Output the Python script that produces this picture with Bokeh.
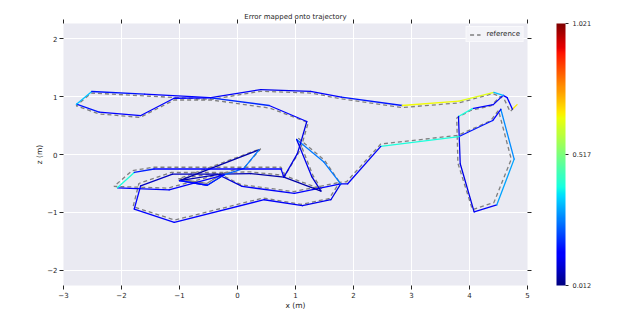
import numpy as np
from bokeh.plotting import figure
from bokeh.models import (ColumnDataSource, LinearColorMapper, ColorBar, FixedTicker,
                          LinearAxis, Range1d, Legend, LegendItem)
from bokeh.embed import file_html
from bokeh.resources import INLINE

title_text = "Error mapped onto trajectory"
x_label = "x (m)"
z_label = "z (m)"
x_ticks = [-3, -2, -1, 0, 1, 2, 3, 4, 5]
x_tick_labels = ["\u22123", "\u22122", "\u22121", "0", "1", "2", "3", "4", "5"]
z_ticks = [-2, -1, 0, 1, 2]
z_tick_labels = ["\u22122", "\u22121", "0", "1", "2"]
err_min, err_max = 0.012, 1.021
cbar_ticks = [0.012, 0.517, 1.021]
cbar_tick_labels = ["0.012", "0.517", "1.021"]

# estimated trajectory (x, z) and error at each pose
traj_x = [4.82, 4.74, 4.65, 4.58, 4.41, 4.05, 3.81, 3.84, 4.08, 4.47,
          4.77, 4.54, 4.40, 3.82, 2.47, 1.90, 1.78, 1.61, 1.12, 0.46,
          -1.09, -1.78, -1.67, -1.12, -0.345, 0.08, 0.98, 1.78, 1.49, 1.02,
          1.28, 1.44, 0.80, 0.23, -0.29, -1.00, 0.37, 0.11, -0.23, -0.52,
          -1.00, -0.52, -0.23, -1.18, -2.07, -1.78, -1.44, 0.75, 0.80, 1.03,
          1.08, 1.195, 0.545, -0.46, -1.093, -1.667, -2.386, -2.776, -2.512, -1.60,
          -0.46, 0.40, 1.26, 1.79, 2.84, 3.82, 4.42, 4.58]
traj_z = [0.86, 0.78, 0.98, 1.02, 0.86, 0.79, 0.655, -0.16, -0.99, -0.87,
          -0.08, 0.78, 0.586, 0.31, 0.14, -0.505, -0.505, -0.78, -0.88, -0.78,
          -1.17, -0.94, -0.54, -0.34, -0.34, -0.55, -0.67, -0.505, -0.13, 0.26,
          -0.38, -0.63, -0.39, -0.33, -0.34, -0.45, 0.08, -0.24, -0.35, -0.53,
          -0.45, -0.53, -0.35, -0.61, -0.575, -0.31, -0.25, -0.25, -0.39, 0.01,
          0.17, 0.569, 0.845, 0.977, 0.97, 0.672, 0.73, 0.867, 1.086, 1.04,
          0.98, 1.12, 1.09, 0.99, 0.845, 0.92, 1.07, 1.02]
traj_err = [0.70, 0.68, 0.13, 0.13, 0.12, 0.14, 0.40, 0.11, 0.10, 0.12,
            0.30, 0.28, 0.14, 0.16, 0.40, 0.12, 0.12, 0.10, 0.11, 0.12,
            0.13, 0.13, 0.13, 0.07, 0.07, 0.09, 0.12, 0.13, 0.26, 0.26,
            0.11, 0.08, 0.05, 0.05, 0.06, 0.06, 0.05, 0.26, 0.24, 0.20,
            0.15, 0.15, 0.17, 0.13, 0.14, 0.40, 0.17, 0.14, 0.12, 0.10,
            0.10, 0.10, 0.14, 0.18, 0.14, 0.14, 0.14, 0.16, 0.33, 0.16,
            0.13, 0.12, 0.11, 0.13, 0.16, 0.66, 0.64, 0.33]

# reference trajectory (x, z)
ref_x = [4.76, 4.70, 4.60, 4.53, 4.37, 4.02, 3.78, 3.80, 4.05, 4.42,
         4.72, 4.50, 4.36, 3.80, 2.47, 1.88, 1.76, 1.58, 1.10, 0.44,
         -1.08, -1.80, -1.70, -1.14, -0.36, 0.06, 0.97, 1.76, 1.50, 1.05,
         1.30, 1.45, 0.80, 0.22, -0.30, -1.02, 0.40, 0.13, -0.24, -0.53,
         -1.02, -0.53, -0.24, -1.20, -2.13, -1.82, -1.46, 0.75, 0.82, 1.05,
         1.11, 1.22, 0.56, -0.45, -1.09, -1.68, -2.39, -2.78, -2.52, -1.60,
         -0.45, 0.40, 1.26, 1.79, 2.84, 3.82, 4.40, 4.55]
ref_z = [0.80, 0.74, 0.95, 1.00, 0.84, 0.76, 0.63, -0.15, -0.95, -0.83,
         -0.08, 0.76, 0.58, 0.33, 0.18, -0.47, -0.48, -0.76, -0.86, -0.75,
         -1.13, -0.90, -0.50, -0.31, -0.31, -0.52, -0.64, -0.48, -0.10, 0.28,
         -0.36, -0.60, -0.36, -0.30, -0.31, -0.42, 0.10, -0.21, -0.32, -0.50,
         -0.42, -0.50, -0.32, -0.58, -0.55, -0.28, -0.22, -0.22, -0.36, 0.02,
         0.17, 0.55, 0.80, 0.94, 0.94, 0.64, 0.70, 0.84, 1.06, 1.01,
         0.95, 1.09, 1.06, 0.96, 0.81, 0.89, 1.05, 0.99]


def jet_palette(n=256):
    t = np.linspace(0, 1, n)
    r = np.interp(t, [0, 0.35, 0.66, 0.89, 1], [0, 0, 1, 1, 0.5])
    g = np.interp(t, [0, 0.125, 0.375, 0.64, 0.91, 1], [0, 0, 1, 1, 0, 0])
    b = np.interp(t, [0, 0.11, 0.34, 0.65, 1], [0.5, 1, 1, 0, 0])
    return ["#%02x%02x%02x" % (int(round(rr * 255)), int(round(gg * 255)), int(round(bb * 255)))
            for rr, gg, bb in zip(r, g, b)]


mapper = LinearColorMapper(palette=jet_palette(), low=err_min, high=err_max)

p = figure(width=624, height=322, output_backend="svg", toolbar_location=None,
           x_range=Range1d(-3, 5), y_range=Range1d(-2.259, 2.259),
           min_border_left=63, min_border_right=97, min_border_top=23, min_border_bottom=37,
           background_fill_color="#EAEAF2", border_fill_color="white", outline_line_color=None)

p.title.text = title_text
p.title.align = "center"
p.title.text_font = "DejaVu Sans"
p.title.text_font_size = "7px"
p.title.text_font_style = "normal"
p.title.text_color = "#262626"
p.title.standoff = -3

ref_r = p.line(ref_x, ref_z, line_color="#7f7f7f", line_width=1.3, line_dash="4 3")

seg_src = ColumnDataSource(dict(x0=traj_x[:-1], y0=traj_z[:-1], x1=traj_x[1:], y1=traj_z[1:],
                                err=traj_err[1:]))
p.segment(x0="x0", y0="y0", x1="x1", y1="y1", source=seg_src, line_width=1.3, line_cap="round",
          line_color={"field": "err", "transform": mapper})

legend = Legend(items=[LegendItem(label="reference", renderers=[ref_r])], location="top_right",
                label_text_font="DejaVu Sans", label_text_font_size="7px",
                label_text_font_style="normal", label_text_color="#262626",
                glyph_width=11, glyph_height=7, label_height=7, padding=3, margin=3, spacing=0,
                background_fill_color="#f4f4f8", background_fill_alpha=0.9,
                border_line_color="white", label_standoff=6)
p.add_layout(legend)

for ax, ticks, labels in ((p.xaxis[0], x_ticks, x_tick_labels), (p.yaxis[0], z_ticks, z_tick_labels)):
    ax.ticker = FixedTicker(ticks=ticks)
    ax.major_label_overrides = {t: l for t, l in zip(ticks, labels)}
    ax.axis_line_color = None
    ax.major_tick_line_color = "#262626"
    ax.major_tick_out = 4
    ax.major_tick_in = 0
    ax.minor_tick_line_color = None
    ax.major_label_text_font = "DejaVu Sans"
    ax.major_label_text_font_size = "7px"
    ax.major_label_text_color = "#262626"
    ax.major_label_standoff = 2
    ax.axis_label_text_font = "DejaVu Sans"
    ax.axis_label_text_font_size = "7.5px"
    ax.axis_label_text_font_style = "normal"
    ax.axis_label_text_color = "#262626"
p.xaxis[0].axis_label = x_label
p.yaxis[0].axis_label = z_label
p.xaxis[0].axis_label_standoff = 0
p.yaxis[0].axis_label_standoff = 0

# tick-only axes on top and right
for loc, ticks in (("above", x_ticks), ("right", z_ticks)):
    ax = LinearAxis(ticker=FixedTicker(ticks=ticks), axis_line_color=None,
                    major_tick_line_color="#262626", major_tick_out=4, major_tick_in=0,
                    minor_tick_line_color=None, major_label_text_font_size="1px",
                    major_label_overrides={t: "" for t in ticks}, major_label_standoff=0)
    p.add_layout(ax, loc)

# invisible spacer between the frame and the colour bar
spacer = LinearAxis(ticker=FixedTicker(ticks=[0]), axis_line_color=None,
                    major_tick_line_color=None, major_tick_out=25, major_tick_in=0,
                    minor_tick_line_color=None, major_label_text_font_size="1px",
                    major_label_overrides={0: ""}, major_label_standoff=0)
p.add_layout(spacer, "right")

p.xgrid.ticker = FixedTicker(ticks=x_ticks)
p.ygrid.ticker = FixedTicker(ticks=z_ticks)
p.grid.grid_line_color = "white"
p.grid.grid_line_width = 1

cbar = ColorBar(color_mapper=mapper, ticker=FixedTicker(ticks=cbar_ticks),
                major_label_overrides={t: l for t, l in zip(cbar_ticks, cbar_tick_labels)},
                width=9, height=262, padding=0, margin=0, label_standoff=4,
                major_tick_line_color="#262626", major_tick_out=3, major_tick_in=0,
                minor_tick_line_color=None, bar_line_color=None,
                major_label_text_font="DejaVu Sans", major_label_text_font_size="6.5px",
                major_label_text_color="#262626", background_fill_color="white",
                border_line_color=None)
p.add_layout(cbar, "right")

open("out.html", "w").write(file_html(p, INLINE))
